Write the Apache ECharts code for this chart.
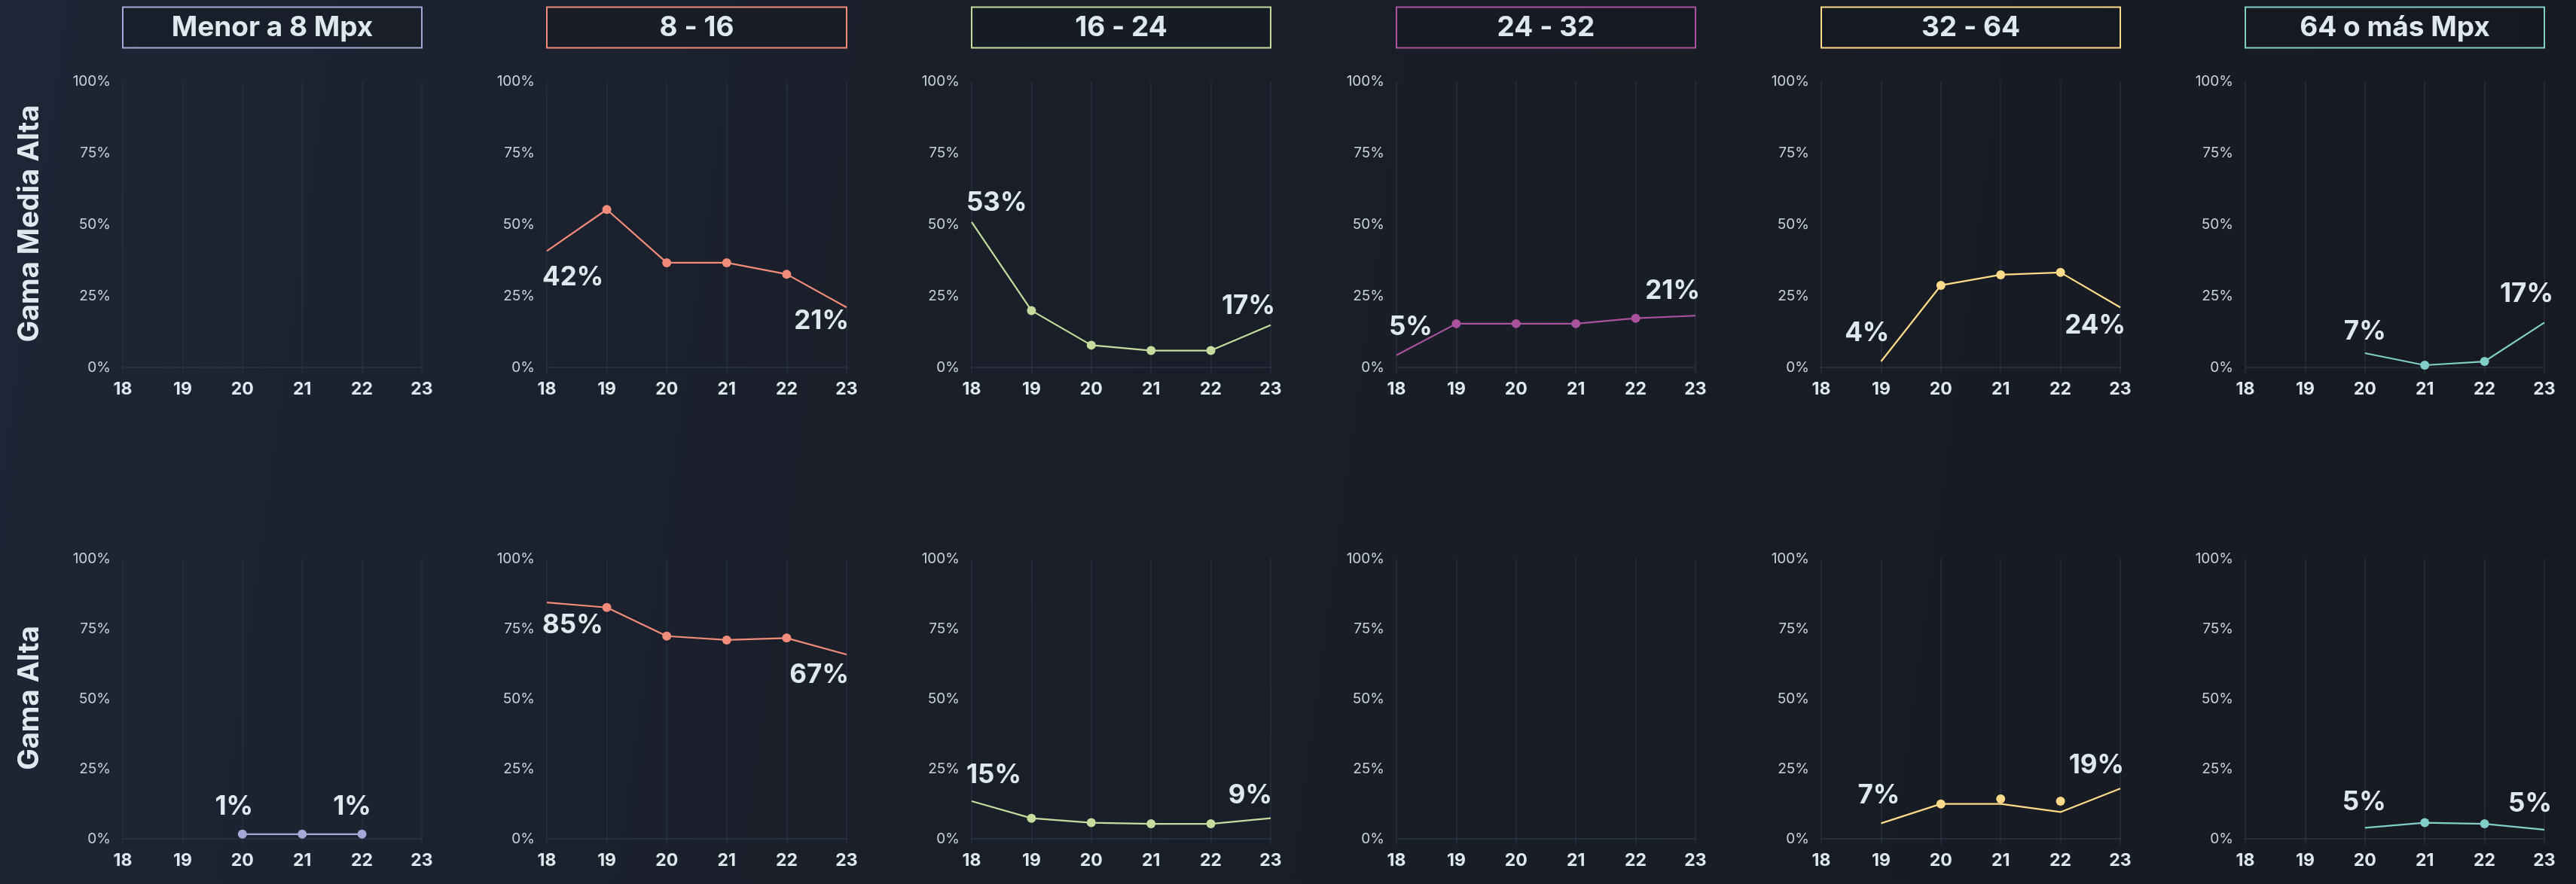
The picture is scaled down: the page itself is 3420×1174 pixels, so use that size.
<!DOCTYPE html>
<html>
<head>
<meta charset="utf-8">
<title>Resolución de cámara por gama</title>
<script src="https://cdn.jsdelivr.net/npm/echarts@6/dist/echarts.min.js"></script>
<style>
html,body{margin:0;padding:0;background:#191d25;}
#chart{width:3420px;height:1174px;}
</style>
</head>
<body>
<div id="chart"></div>
<script>
// datos (años 2018-2023, % del total)
var years = ['18', '19', '20', '21', '22', '23'];
var titles = ['Menor a 8 Mpx', '8 - 16', '16 - 24', '24 - 32', '32 - 64', '64 o más Mpx'];
var rowNames = ['Gama Media Alta', 'Gama Alta'];
var yTicks = [0, 25, 50, 75, 100];

// Gama Media Alta: linea y puntos
var medLine = [
    [null, null, null, null, null, null],
    [40.7, 55.2, 36.6, 36.6, 32.6, 21.0],
    [50.8, 19.9, 7.8, 5.9, 5.9, 14.8],
    [4.3, 15.3, 15.3, 15.3, 17.2, 18.1],
    [null, 2.1, 28.7, 32.4, 33.2, 21.0],
    [null, null, 5.0, 0.8, 2.1, 15.7]
];
var medDots = [
    [null, null, null, null, null, null],
    [null, 55.2, 36.6, 36.6, 32.6, null],
    [null, 19.9, 7.8, 5.9, 5.9, null],
    [null, 15.3, 15.3, 15.3, 17.2, null],
    [null, null, 28.7, 32.4, 33.2, null],
    [null, null, null, 0.8, 2.1, null]
];
var medLabels = [[null, null], ['42%', '21%'], ['53%', '17%'], ['5%', '21%'], ['4%', '24%'], ['7%', '17%']];

// Gama Alta
var altaLine = [
    [null, null, 1.7, 1.7, 1.7, null],
    [84.4, 82.6, 72.4, 71.0, 71.7, 65.8],
    [13.5, 7.4, 5.8, 5.4, 5.4, 7.4],
    [null, null, null, null, null, null],
    [null, 5.6, 12.5, 12.5, 9.6, 18.0],
    [null, null, 4.0, 5.8, 5.4, 3.3]
];
var altaDots = [
    [null, null, 1.7, 1.7, 1.7, null],
    [null, 82.6, 72.4, 71.0, 71.7, null],
    [null, 7.4, 5.8, 5.4, 5.4, null],
    [null, null, null, null, null, null],
    [null, null, 12.5, 14.3, 13.5, null],
    [null, null, null, 5.8, 5.4, null]
];
var altaLabels = [['1%', '1%'], ['85%', '67%'], ['15%', '9%'], [null, null], ['7%', '19%'], ['5%', '5%']];

(function(){

var colors = ['#a6a9d8', '#f28c7a', '#c6dc9e', '#aa529e', '#ffda8a', '#80cec7'];
var textColor = '#dfe8ef';
var cols = [[163, 560], [726, 1124], [1290, 1687], [1854, 2251], [2418, 2815], [2981, 3378]];
var rows = [[108, 496], [742, 1122]];

// colocacion de etiquetas [align, dx, dy] para inicio y fin
var labelPos = [
    [null, [['left', -6, 35], ['right', 3, 18]], [['left', -7, -25], ['right', 6, -25]],
        [['left', -10, -37], ['right', 6, -33]], [['right', 11, -38], ['right', 7, 24]], [['center', 0, -29], ['right', 12, -38]]],
    [[['center', -11, -36], ['center', -13, -36]], [['left', -6, 30], ['right', 3, 27]], [['left', -7, -34], ['right', 2, -30]],
        null, [['center', -3, -37], ['right', 5, -31]], [['center', -1, -34], ['right', 10, -34]]]
];

var lines = [medLine, altaLine];
var dots = [medDots, altaDots];
var labels = [medLabels, altaLabels];

var grid = [], xAxis = [], yAxis = [], series = [], graphic = [];

for (var r = 0; r < 2; r++) {
    for (var c = 0; c < 6; c++) {
        var idx = grid.length;
        grid.push({
            left: cols[c][0],
            top: rows[r][0],
            width: cols[c][1] - cols[c][0],
            height: rows[r][1] - rows[r][0]
        });
        xAxis.push({
            type: 'category',
            gridIndex: idx,
            data: years,
            boundaryGap: false,
            axisLine: {show: true, lineStyle: {color: '#2d3547', width: 1.5}},
            axisTick: {show: false},
            axisLabel: {color: textColor, fontFamily: 'Inter', fontWeight: 'bold', fontSize: 23, margin: 10},
            splitLine: {show: true, lineStyle: {color: '#272e3b', width: 1.5}}
        });
        yAxis.push({
            type: 'value',
            gridIndex: idx,
            min: -2.1,
            max: 100,
            axisLine: {show: false},
            axisTick: {show: false},
            splitLine: {show: false},
            axisLabel: {
                customValues: yTicks,
                color: '#c9d1d9',
                fontFamily: 'Inter',
                fontSize: 19,
                margin: 16,
                formatter: function (v) { return v + '%'; }
            }
        });

        // linea con etiquetas en los extremos
        var vals = lines[r][c];
        var first = -1, last = -1;
        for (var i = 0; i < vals.length; i++) {
            if (vals[i] != null) {
                if (first < 0) first = i;
                last = i;
            }
        }
        var lineData = [];
        for (var j = 0; j < vals.length; j++) {
            var item = {value: vals[j]};
            var which = j === first ? 0 : (j === last ? 1 : -1);
            if (which >= 0 && labels[r][c][which] && labelPos[r][c]) {
                var p = labelPos[r][c][which];
                item.label = {
                    show: true,
                    formatter: labels[r][c][which],
                    position: [0, 0],
                    align: p[0],
                    verticalAlign: 'middle',
                    offset: [p[1], p[2]],
                    color: textColor,
                    fontFamily: 'Inter',
                    fontWeight: 'bold',
                    fontSize: 35
                };
            }
            lineData.push(item);
        }
        series.push({
            type: 'line',
            xAxisIndex: idx,
            yAxisIndex: idx,
            data: lineData,
            symbol: 'circle',
            symbolSize: 0,
            showSymbol: true,
            lineStyle: {color: colors[c], width: 2.2},
            itemStyle: {color: colors[c]},
            label: {show: false},
            silent: true,
            z: 3
        });
        series.push({
            type: 'scatter',
            xAxisIndex: idx,
            yAxisIndex: idx,
            data: dots[r][c],
            symbolSize: 12,
            itemStyle: {color: colors[c], opacity: 1},
            silent: true,
            z: 4
        });
    }
}

// cajas de titulo por columna
for (var k = 0; k < 6; k++) {
    graphic.push({
        type: 'rect',
        shape: {x: cols[k][0], y: 9.5, width: cols[k][1] - cols[k][0], height: 54},
        style: {fill: 'rgba(20,23,30,0.35)', stroke: colors[k], lineWidth: 2}
    });
    graphic.push({
        type: 'text',
        x: (cols[k][0] + cols[k][1]) / 2,
        y: 37,
        style: {
            text: titles[k],
            align: 'center',
            verticalAlign: 'middle',
            fill: textColor,
            font: 'bold 37px Inter'
        }
    });
}

// nombres de fila en vertical
var rowCenters = [297, 927];
for (var m = 0; m < 2; m++) {
    graphic.push({
        type: 'text',
        x: 40,
        y: rowCenters[m],
        rotation: Math.PI / 2,
        style: {
            text: rowNames[m],
            align: 'center',
            verticalAlign: 'middle',
            fill: textColor,
            font: 'bold 38px Inter'
        }
    });
}

var chart = echarts.init(document.getElementById('chart'));

option = {
    backgroundColor: new echarts.graphic.LinearGradient(0, 0, 1, 0.4, [
        {offset: 0, color: '#1e2536'},
        {offset: 0.35, color: '#1a1f2a'},
        {offset: 1, color: '#171a21'}
    ]),
    animation: false,
    grid: grid,
    xAxis: xAxis,
    yAxis: yAxis,
    series: series,
    graphic: graphic
};

chart.setOption(option);
})();
</script>
</body>
</html>
